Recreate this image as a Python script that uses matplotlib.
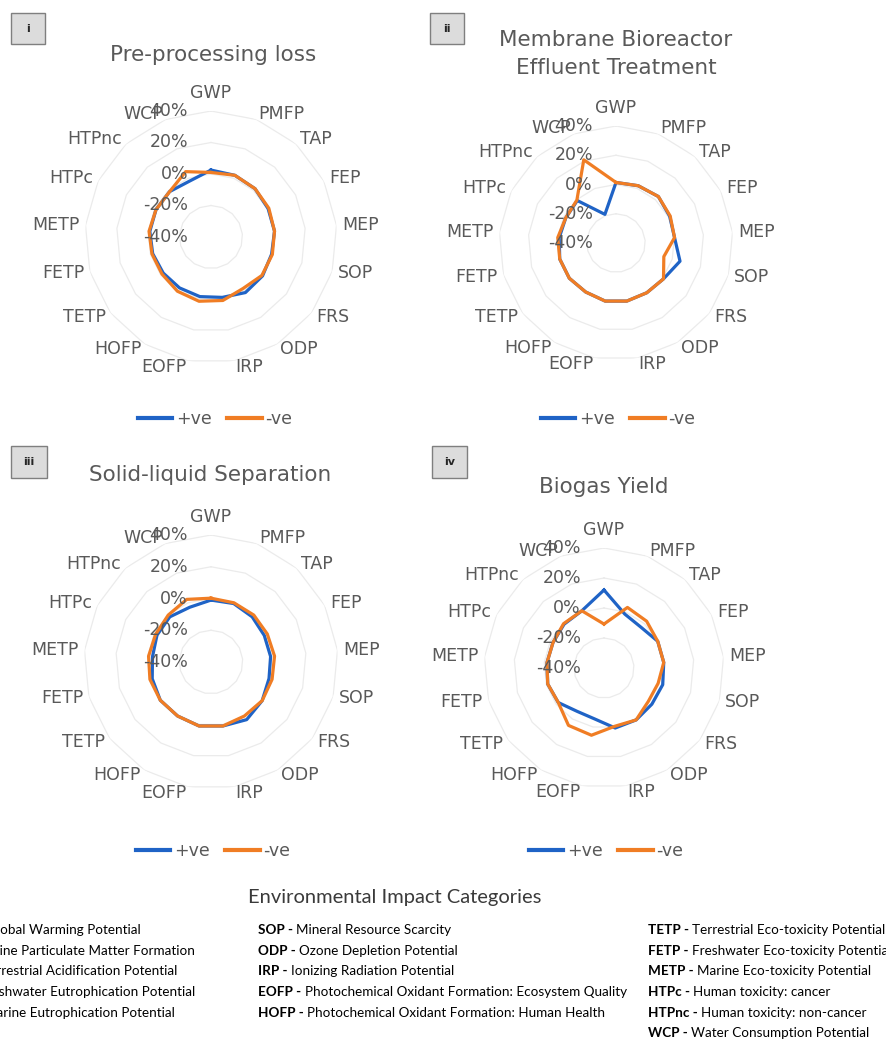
import numpy as np
import matplotlib
matplotlib.use("Agg")
import matplotlib.pyplot as plt
from matplotlib.patches import Rectangle

# figure size in pixels (dpi 100)
W, H = 887, 1039

# impact categories, clockwise from the top
categories = ["GWP", "PMFP", "TAP", "FEP", "MEP", "SOP", "FRS", "ODP", "IRP",
              "EOFP", "HOFP", "TETP", "FETP", "METP", "HTPc", "HTPnc", "WCP"]
ring_values = [-40, -20, 0, 20, 40]

titles = ["Pre-processing loss", "Membrane Bioreactor\nEffluent Treatment",
          "Solid-liquid Separation", "Biogas Yield"]
tags = ["i", "ii", "iii", "iv"]
series_names = ["+ve", "-ve"]

# % change per category
pos_i = [2.5, 2, 1.5, 0.5, 0.5, 0, 1, 1.5, -1, -1.5, -2, -2, -1.5, -1, -1, -1, -2]
neg_i = [1, 2, 1.5, 1, 0.5, 0.5, 0.5, -1.5, 1, 1.5, 0.5, -1, -1, -0.5, -1, -1, 4.5]

pos_ii = [1.4, 2, 3, 1, 0.2, 5.5, 0.7, 0, 0.4, 0.4, -0.6, 0, 0, -1, -1.6, -0.7, -19]
neg_ii = [1.4, 2, 3, 1.4, 0.2, -6, 0.7, 0, 0.4, 0.4, -0.6, 0, 0, 0, -1.6, -0.3, 21]

pos_iii = [-1, -0.5, -1.5, -2.5, -2.3, -2, 0.4, 2.7, 1, 1, 0, 0, -1.5, -3, -2, -1.5, -3]
neg_iii = [0.2, 0, 0, -0.4, 0.2, 0, 0.4, 0, 1, 1, 0, 0, 0, -0.5, -1, 0, 2.3]

pos_iv = [12, -1.5, -3.3, 0, 0, 0.7, 0, 0.7, 0.7, -5.5, -6, -1.8, -1, -1.8, -2, -0.5, 0.9]
neg_iv = [-10.7, 3.3, 2.2, 0, 0, -2.5, -3, 0.7, -0.5, 5.6, 5, -1.8, -1, -1.8, -2, 0, 0.9]

data = [(pos_i, neg_i), (pos_ii, neg_ii), (pos_iii, neg_iii), (pos_iv, neg_iv)]

# legend table at the bottom
col1 = [("GWP", "Global Warming Potential"),
        ("PMFP", "Fine Particulate Matter Formation"),
        ("TAP", "Terrestrial Acidification Potential"),
        ("FEP", "Freshwater Eutrophication Potential"),
        ("MEP", "Marine Eutrophication Potential")]
col2 = [("SOP", "Mineral Resource Scarcity"),
        ("ODP", "Ozone Depletion Potential"),
        ("IRP", "Ionizing Radiation Potential"),
        ("EOFP", "Photochemical Oxidant Formation: Ecosystem Quality"),
        ("HOFP", "Photochemical Oxidant Formation: Human Health")]
col3 = [("TETP", "Terrestrial Eco-toxicity Potential"),
        ("FETP", "Freshwater Eco-toxicity Potential"),
        ("METP", "Marine Eco-toxicity Potential"),
        ("HTPc", "Human toxicity: cancer"),
        ("HTPnc", "Human toxicity: non-cancer"),
        ("WCP", "Water Consumption Potential")]

# layout per panel: centre x, centre y, radius of 40% ring, title pos, legend pos, tag box
layout = [
    dict(cx=211, cy=237, R=126, tx=213, ty=55, lx=215, ly=419, box=(11, 13, 34, 31)),
    dict(cx=616, cy=243, R=117, tx=616, ty=54, lx=618, ly=419, box=(430, 13, 34, 31)),
    dict(cx=211, cy=662, R=127, tx=210, ty=475, lx=213, ly=851, box=(11, 446, 36, 32)),
    dict(cx=604, cy=668, R=120, tx=604, ty=487, lx=606, ly=851, box=(432, 446, 35, 32)),
]

BLUE = "#1F63C6"
ORANGE = "#F07D24"
GREY = "#595959"
GRID = "#EBEBEB"
FS = 12.5

fig = plt.figure(figsize=(W / 100, H / 100), dpi=100)

ov = fig.add_axes([0, 0, 1, 1])
ov.set_xlim(0, W)
ov.set_ylim(H, 0)
ov.axis("off")

theta = np.arange(len(categories)) * 2 * np.pi / len(categories)
theta_c = np.append(theta, theta[0])

for (pos, neg), lay, title, tag in zip(data, layout, titles, tags):
    cx, cy, R = lay["cx"], lay["cy"], lay["R"]
    ax = fig.add_axes([(cx - R) / W, 1 - (cy + R) / H, 2 * R / W, 2 * R / H],
                      projection="polar")
    ax.set_theta_zero_location("N")
    ax.set_theta_direction(-1)
    ax.set_ylim(-40, 40)
    ax.grid(False)
    ax.spines["polar"].set_visible(False)
    ax.set_xticks([])
    ax.set_yticks([])
    ax.patch.set_alpha(0)

    # polygon gridlines
    for v in ring_values[1:]:
        ax.plot(theta_c, [v] * len(theta_c), color=GRID, lw=0.9, zorder=0)

    ax.plot(theta_c, np.append(pos, pos[0]), color=BLUE, lw=2.3,
            label=series_names[0], zorder=3)
    ax.plot(theta_c, np.append(neg, neg[0]), color=ORANGE, lw=2.3,
            label=series_names[1], zorder=4)

    # category labels
    for th, lab in zip(theta, categories):
        s, c = np.sin(th), np.cos(th)
        if abs(s) < 0.05:
            ax.annotate(lab, xy=(th, 40), xytext=(0, 13), textcoords="offset pixels",
                        ha="center", va="baseline", fontsize=FS, color=GREY,
                        annotation_clip=False)
        else:
            ax.annotate(lab, xy=(th, 40), xytext=(6 * s, 6 * c),
                        textcoords="offset pixels",
                        ha="left" if s > 0 else "right", va="center",
                        fontsize=FS, color=GREY, annotation_clip=False)

    # radial tick labels
    for v in ring_values:
        ax.annotate(f"{v}%", xy=(0, v), xytext=(-23, 0), textcoords="offset pixels",
                    ha="right", va="center", fontsize=FS, color=GREY,
                    annotation_clip=False, zorder=5)

    leg = ax.legend(loc="center", bbox_to_anchor=(lay["lx"] / W, 1 - lay["ly"] / H),
                    bbox_transform=fig.transFigure, ncol=2, frameon=False,
                    fontsize=FS, handlelength=2.0, handletextpad=0.2,
                    columnspacing=0.9, labelcolor=GREY)
    for ln in leg.get_lines():
        ln.set_linewidth(3)

    ov.text(lay["tx"], lay["ty"], title, ha="center", va="center", fontsize=15.5,
            color=GREY, linespacing=1.45)

    bx, by, bw, bh = lay["box"]
    ov.add_patch(Rectangle((bx, by), bw, bh, facecolor="#DCDCDC",
                           edgecolor="#7F7F7F", lw=1))
    ov.text(bx + bw / 2, by + bh / 2, tag, ha="center", va="center",
            fontsize=8, fontweight="bold", color="#262626")

# bottom legend table
ov.text(395, 898, "Environmental Impact Categories", ha="center", va="center",
        fontsize=14.5, family="Lato", color="#3A3A3A")

renderer = fig.canvas.get_renderer()
row_y = [930, 951, 971, 992, 1013, 1033]
for x0, col in [(-57, col1), (258, col2), (648, col3)]:
    for (abbr, desc), y in zip(col, row_y):
        t = ov.text(x0, y, abbr + " -", ha="left", va="center", fontsize=9.7,
                    family="Lato", fontweight="bold", color="#000000")
        bb = t.get_window_extent(renderer=renderer)
        ov.text(bb.x1 + 3.5, y, desc, ha="left", va="center", fontsize=9.7,
                family="Lato", color="#000000")

fig.savefig("out.png", dpi=100)
